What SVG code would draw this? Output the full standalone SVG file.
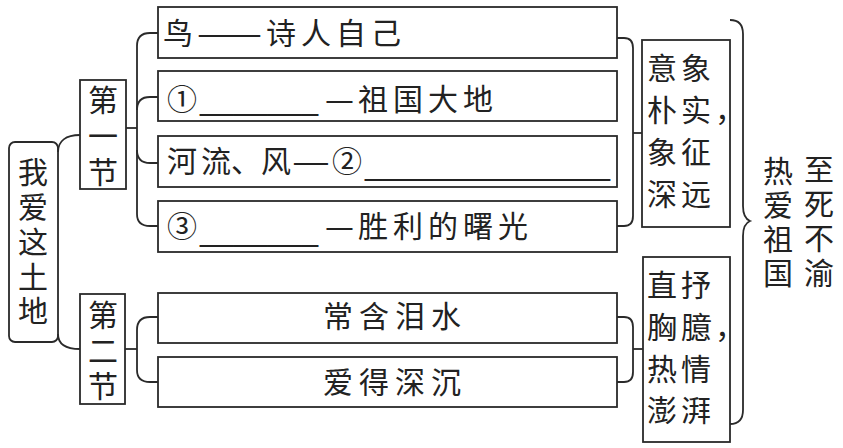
<svg xmlns="http://www.w3.org/2000/svg" width="843" height="448" viewBox="0 0 843 448">
<style>
  .box { fill: none; stroke: #2a2a2a; stroke-width: 1.8; }
  .con { fill: none; stroke: #2a2a2a; stroke-width: 1.8; }
  text { font-family: "Noto Sans CJK SC", "Noto Sans", sans-serif; font-size: 30px; fill: #222; }
  .v { writing-mode: vertical-rl; text-orientation: upright; }
  .u { font-family: "Liberation Sans", sans-serif; }
</style>
<rect width="843" height="448" fill="#ffffff"/>

<g id="connectors">
  <path class="con" d="M58,152 C58,141 66,135 80,135"/>
  <path class="con" d="M58,334 C58,345 66,349 80,349"/>
  <path class="con" d="M158,33 H150 Q137,33 137,46 V214 Q137,226 150,226 H158"/>
  <path class="con" d="M137,110 Q137,97 150,97 H158"/>
  <path class="con" d="M137,150 Q137,163 150,163 H158"/>
  <path class="con" d="M126,128 H137"/>
  <path class="con" d="M158,317 H150 Q137,317 137,330 V370 Q137,382 150,382 H158"/>
  <path class="con" d="M125,349 H137"/>
  <path class="con" d="M617,38 H624 Q633,38 633,48 V216 Q633,226 624,226 H617"/>
  <path class="con" d="M633,133 H642"/>
  <path class="con" d="M617,317 H624 Q633,317 633,327 V372 Q633,382 624,382 H617"/>
  <path class="con" d="M633,349 H643"/>
  <path class="con" d="M730,20 Q743,20 743,34 V206 Q743,218 750,221 Q743,224 743,236 V410 Q743,424 730,424"/>
</g>

<g id="root">
  <rect class="box" x="9" y="142" width="49" height="200" rx="6"/>
  <text class="v" x="33" y="157" letter-spacing="4.75">我爱这土地</text>
</g>

<g id="section1">
  <rect class="box" x="80" y="80" width="46" height="109"/>
  <text class="v" x="103" y="85" letter-spacing="6">第一节</text>
</g>

<g id="section2">
  <rect class="box" x="80" y="294" width="45" height="110"/>
  <text class="v" x="103" y="300" letter-spacing="5.5">第二节</text>
</g>

<g id="row1">
  <rect class="box" x="158" y="7" width="459" height="51"/>
  <text x="163" y="44">鸟</text>
  <text x="197" y="44" textLength="65" lengthAdjust="spacingAndGlyphs">——</text>
  <text x="266" y="44" letter-spacing="5">诗人自己</text>
</g>

<g id="row2">
  <rect class="box" x="158" y="71" width="459" height="50"/>
  <text x="167" y="110">①</text>
  <text class="u" x="200" y="110" textLength="118" lengthAdjust="spacingAndGlyphs">_______</text>
  <text x="325" y="110" textLength="29" lengthAdjust="spacingAndGlyphs">—</text>
  <text x="358" y="110" letter-spacing="5">祖国大地</text>
</g>

<g id="row3">
  <rect class="box" x="158" y="136" width="459" height="51"/>
  <text y="172"><tspan x="167">河</tspan><tspan x="201">流</tspan><tspan x="231">、</tspan><tspan x="261">风</tspan></text>
  <text x="292" y="172" textLength="38" lengthAdjust="spacingAndGlyphs">—</text>
  <text x="332" y="172">②</text>
  <text class="u" x="365" y="175" textLength="245" lengthAdjust="spacingAndGlyphs">______________</text>
</g>

<g id="row4">
  <rect class="box" x="158" y="201" width="459" height="51"/>
  <text x="167" y="237">③</text>
  <text class="u" x="200" y="241" textLength="118" lengthAdjust="spacingAndGlyphs">_______</text>
  <text x="325" y="237" textLength="29" lengthAdjust="spacingAndGlyphs">—</text>
  <text x="358" y="237" letter-spacing="5">胜利的曙光</text>
</g>

<g id="row5">
  <rect class="box" x="158" y="293" width="459" height="50"/>
  <text x="323" y="327" letter-spacing="6">常含泪水</text>
</g>

<g id="row6">
  <rect class="box" x="158" y="357" width="459" height="50"/>
  <text x="323" y="393" letter-spacing="6">爱得深沉</text>
</g>

<g id="summary1">
  <rect class="box" x="642" y="40" width="88" height="187"/>
  <text letter-spacing="4"><tspan x="647" y="79">意象</tspan><tspan x="647" y="121">朴实，</tspan><tspan x="647" y="163">象征</tspan><tspan x="647" y="205">深远</tspan></text>
</g>

<g id="summary2">
  <rect class="box" x="643" y="257" width="87" height="185"/>
  <text letter-spacing="4"><tspan x="647" y="296">直抒</tspan><tspan x="647" y="338">胸臆，</tspan><tspan x="647" y="380">热情</tspan><tspan x="647" y="421">澎湃</tspan></text>
</g>

<g id="theme">
  <text class="v" x="778" y="156" letter-spacing="4">热爱祖国</text>
  <text class="v" x="819" y="154" letter-spacing="4.5">至死不渝</text>
</g>
</svg>
